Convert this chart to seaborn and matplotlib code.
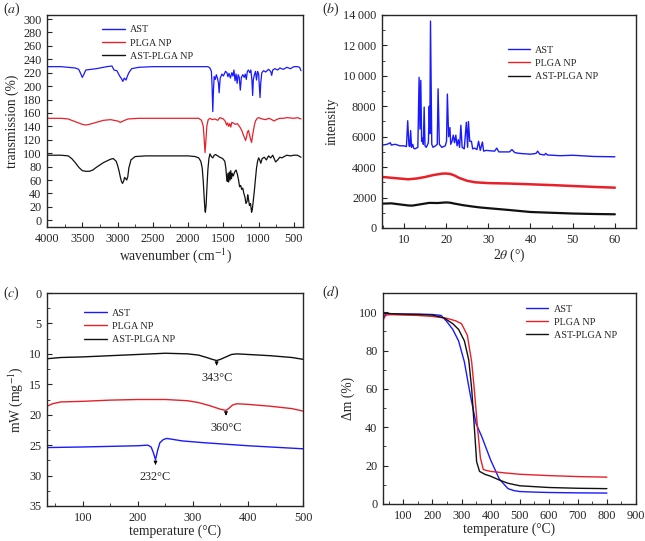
import numpy as np
import matplotlib
matplotlib.use('Agg')
import matplotlib.pyplot as plt
from matplotlib.ticker import MultipleLocator
import seaborn as sns

# ---- (a) FTIR ----
ast_wn = [4000, 3800, 3600, 3550, 3520, 3500, 3480, 3450, 3300, 3150,
          3080, 3050, 3010, 2970, 2950, 2925, 2905, 2880, 2860, 2840,
          2800, 2700, 2500, 2200, 1900, 1720, 1690, 1670, 1660, 1650,
          1640, 1630, 1615, 1600, 1585, 1570, 1560, 1545, 1520, 1500,
          1470, 1450, 1435, 1420, 1400, 1380, 1365, 1350, 1335, 1320,
          1305, 1290, 1275, 1260, 1245, 1225, 1205, 1190, 1175, 1160,
          1145, 1125, 1110, 1095, 1085, 1075, 1060, 1045, 1030, 1015,
          1000, 990, 980, 970, 955, 930, 900, 860, 830, 815,
          800, 770, 730, 700, 650, 600, 550, 500, 450, 420,
          400]
ast_tr = [229, 229, 227, 225, 218, 213, 217, 224, 226, 229,
          230, 224, 223, 215, 212, 207, 212, 209, 215, 220,
          226, 228, 229, 229, 229, 229, 227, 222, 200, 162,
          195, 214, 210, 217, 212, 205, 190, 212, 218, 215,
          222, 220, 214, 219, 212, 220, 215, 224, 208, 218,
          204, 217, 213, 194, 213, 217, 213, 218, 210, 222,
          224, 220, 224, 208, 186, 210, 217, 222, 209, 222,
          218, 200, 183, 205, 220, 223, 221, 225, 222, 216,
          224, 226, 224, 227, 225, 228, 226, 229, 229, 228,
          223]

plga_wn = [4000, 3800, 3700, 3600, 3500, 3450, 3400, 3300, 3200, 3100,
           3000, 2960, 2940, 2900, 2850, 2700, 2400, 2000, 1850, 1810,
           1785, 1770, 1760, 1750, 1735, 1715, 1690, 1660, 1620, 1580,
           1550, 1500, 1470, 1455, 1440, 1425, 1410, 1395, 1380, 1360,
           1330, 1300, 1280, 1260, 1240, 1220, 1200, 1185, 1170, 1160,
           1145, 1130, 1115, 1100, 1090, 1075, 1060, 1045, 1020, 1000,
           950, 900, 860, 830, 780, 750, 700, 650, 600, 500,
           450, 400]
plga_tr = [152, 152, 151, 147, 143, 142, 143, 146, 149, 150,
           148, 146, 147, 149, 151, 152, 152, 152, 152, 149,
           140, 118, 101, 115, 140, 150, 152, 150, 151, 149,
           153, 151, 147, 142, 145, 140, 144, 139, 146, 145,
           143, 144, 141, 138, 134, 128, 123, 119, 125, 131,
           134, 128, 121, 116, 124, 133, 142, 148, 152, 153,
           151, 150, 152, 151, 148, 150, 152, 152, 153, 152,
           153, 151]

mix_wn = [4000, 3800, 3700, 3650, 3600, 3550, 3500, 3450, 3400, 3350,
          3300, 3200, 3100, 3060, 3020, 3000, 2980, 2960, 2945, 2930,
          2915, 2900, 2885, 2870, 2855, 2840, 2810, 2750, 2600, 2300,
          2000, 1900, 1850, 1820, 1800, 1785, 1770, 1760, 1755, 1745,
          1735, 1720, 1705, 1690, 1670, 1650, 1630, 1610, 1580, 1550,
          1510, 1480, 1465, 1455, 1445, 1435, 1425, 1415, 1405, 1395,
          1385, 1375, 1360, 1340, 1320, 1300, 1285, 1270, 1255, 1240,
          1225, 1210, 1195, 1180, 1165, 1155, 1145, 1130, 1115, 1100,
          1090, 1075, 1060, 1045, 1030, 1015, 1000, 985, 970, 950,
          920, 890, 860, 830, 800, 780, 760, 730, 700, 670,
          640, 600, 550, 500, 450, 400]
mix_tr = [97, 97, 96, 92, 86, 79, 74, 73, 73, 75,
          79, 86, 91, 92, 88, 82, 74, 64, 58, 55,
          58, 64, 62, 60, 65, 78, 90, 95, 96, 96,
          96, 95, 93, 88, 78, 58, 30, 14, 12, 22,
          45, 75, 92, 99, 95, 93, 97, 98, 96, 94,
          92, 88, 78, 65, 58, 70, 57, 72, 60, 74,
          62, 70, 66, 72, 75, 68, 60, 50, 52, 46,
          48, 40, 35, 25, 28, 38, 32, 22, 25, 12,
          16, 30, 45, 62, 78, 88, 93, 90, 85, 92,
          94, 90, 96, 93, 97, 92, 87, 90, 94, 93,
          95, 97, 96, 97, 97, 94]

# ---- (b) XRD ----
ast_2t = [5, 6, 6.8, 7, 7.5, 8, 9, 10, 10.6, 10.9,
          11.2, 11.4, 11.6, 11.8, 12.1, 12.3, 12.6, 13.3, 13.6, 13.8,
          14.0, 14.2, 14.4, 14.6, 14.8, 15.0, 15.3, 15.8, 16.0, 16.15,
          16.3, 16.6, 16.9, 17.5, 17.9, 18.1, 18.4, 19.0, 19.8, 20.1,
          20.3, 20.6, 20.9, 21.1, 21.4, 21.7, 22.0, 22.3, 22.6, 22.9,
          23.2, 23.5, 23.8, 24.3, 24.8, 25.1, 25.3, 25.6, 26.0, 26.3,
          26.8, 27.3, 27.7, 28.1, 28.6, 28.9, 29.5, 31.5, 32.0, 32.5,
          35.0, 35.6, 36.3, 37.5, 40, 41.3, 41.7, 42.2, 43.3, 43.6,
          44, 47, 50, 55, 60]
ast_int = [5450, 5500, 5600, 5450, 5480, 5500, 5400, 5400, 5350, 7050,
           5400, 5350, 6400, 5300, 5500, 5250, 5200, 5300, 9900, 6500,
           9700, 5700, 5900, 5500, 7950, 5400, 5300, 5600, 8000, 6200,
           13600, 5500, 5300, 5400, 5500, 9150, 5500, 5300, 5400, 5700,
           8800, 6000, 6600, 5500, 5700, 6100, 5600, 6100, 5400, 5800,
           5300, 6750, 5300, 5200, 6950, 5300, 7000, 5700, 5700, 5200,
           5250, 5150, 5700, 5100, 5650, 5050, 5100, 5050, 5250, 5000,
           5000, 5150, 4950, 4900, 4850, 4900, 5050, 4850, 4800, 4900,
           4800, 4750, 4780, 4700, 4680]
plga_2t = [5, 7, 9, 11, 13, 15, 17, 19, 20, 21, 22, 23, 25, 27, 30, 35, 40, 45, 50, 55, 60]
plga_int = [3350, 3300, 3250, 3200, 3250, 3350, 3480, 3570, 3580, 3550, 3450,
            3300, 3100, 3000, 2950, 2920, 2870, 2820, 2760, 2700, 2650]
mix_2t = [5, 7, 9, 11, 12, 14, 16, 18, 20, 21, 22, 24, 26, 28, 30, 35, 40, 45, 50, 55, 60]
mix_int = [1600, 1620, 1550, 1480, 1470, 1560, 1650, 1640, 1680, 1660, 1600,
           1500, 1420, 1350, 1300, 1180, 1050, 1000, 950, 920, 900]

# ---- (c) DSC ----
ast_T = [35, 100, 150, 200, 218, 224, 228, 232, 236, 240, 246, 252, 260, 280, 320, 400, 460, 500]
ast_mw = [25.4, 25.3, 25.2, 25.1, 25.0, 25.3, 26.2, 27.4, 25.8, 24.6, 24.1, 23.9, 24.0,
          24.3, 24.6, 25.1, 25.4, 25.6]
plga_T = [35, 45, 60, 100, 150, 200, 250, 290, 310, 330, 350, 360, 366, 372, 380, 400, 440, 480, 500]
plga_mw = [18.6, 18.2, 17.9, 17.8, 17.6, 17.5, 17.5, 17.7, 18.0, 18.5, 19.1, 19.3, 18.9,
           18.4, 18.2, 18.3, 18.6, 19.0, 19.4]
mix_T = [35, 60, 100, 150, 200, 250, 290, 310, 325, 335, 343, 350, 360, 370, 380, 400, 440, 480, 500]
mix_mw = [10.8, 10.6, 10.5, 10.3, 10.1, 9.9, 10.0, 10.2, 10.6, 10.9, 11.1, 10.9, 10.5,
          10.1, 10.0, 10.1, 10.3, 10.6, 10.9]
peak_T = [343, 360, 232]
peak_y = [11.1, 19.3, 27.4]

# ---- (d) TGA ----
ast_tT = [30, 40, 60, 100, 150, 200, 230, 250, 270, 290, 310, 330, 350, 370, 400, 430, 460,
          480, 500, 550, 600, 700, 800]
ast_m = [97, 99, 99.2, 99, 99, 98.8, 98.3, 95, 91, 85, 74, 57, 42, 35, 23, 13, 8, 7, 6.5,
         6.2, 6, 5.8, 5.7]
plga_tT = [30, 40, 60, 100, 150, 200, 250, 280, 300, 320, 335, 345, 355, 365, 375, 385, 400,
           450, 500, 600, 700, 800]
plga_m = [96, 98.5, 98.7, 98.5, 98.3, 97.8, 96.8, 95.5, 94, 88, 74, 58, 40, 24, 18, 17.5,
          17, 16.2, 15.5, 14.8, 14.3, 14]
mix_tT = [30, 40, 60, 100, 150, 200, 240, 270, 290, 310, 325, 335, 345, 352, 362, 380, 400,
          430, 460, 500, 600, 700, 800]
mix_m = [99, 99.5, 99.2, 99, 98.8, 98.5, 97, 94, 91, 85, 75, 60, 38, 22, 17, 15.5, 14.5,
         12.5, 10.8, 9.5, 8.6, 8.2, 8]

labels = ['AST', 'PLGA NP', 'AST-PLGA NP']
colors = ['#1a1aff', '#e8202a', '#111111']

sns.set_style('ticks')
plt.rcParams['font.family'] = ['Liberation Serif', 'DejaVu Serif']
plt.rcParams['mathtext.fontset'] = 'stix'
plt.rcParams['xtick.direction'] = 'in'
plt.rcParams['ytick.direction'] = 'in'
plt.rcParams['axes.linewidth'] = 1.0

fig = plt.figure(figsize=(6.45, 5.41), dpi=100)
ax_a = fig.add_axes([0.0729, 0.5804, 0.397, 0.3919])
ax_b = fig.add_axes([0.5922, 0.5786, 0.3938, 0.3937])
ax_c = fig.add_axes([0.0729, 0.0647, 0.397, 0.3937])
ax_d = fig.add_axes([0.5938, 0.0684, 0.3922, 0.390])

tick_fs = 8.8
label_fs = 9.8


def draw(ax, series, lw=1.0):
    for (x, y), lab, col in zip(series, labels, colors):
        sns.lineplot(x=x, y=y, ax=ax, color=col, label=lab, linewidth=lw,
                     sort=False, estimator=None)


def style(ax, xlab, ylab, legend_xy):
    ax.set_xlabel(xlab, fontsize=label_fs, labelpad=1)
    ax.set_ylabel(ylab, fontsize=label_fs, labelpad=3)
    ax.tick_params(which='major', length=3.5, width=0.8, labelsize=tick_fs, pad=4)
    ax.tick_params(which='minor', length=2, width=0.6)
    leg = ax.legend(loc='upper left', bbox_to_anchor=legend_xy, frameon=False,
                    fontsize=7.3, handlelength=2.2, labelspacing=0.4,
                    borderaxespad=0, handletextpad=0.5)
    for h in leg.get_lines():
        h.set_linewidth(1.0)


# (a)
draw(ax_a, [(ast_wn, ast_tr), (plga_wn, plga_tr), (mix_wn, mix_tr)], lw=0.9)
ax_a.set_xlim(4000, 370)
ax_a.set_ylim(-10, 306)
ax_a.xaxis.set_major_locator(MultipleLocator(500))
ax_a.xaxis.set_minor_locator(MultipleLocator(250))
ax_a.yaxis.set_major_locator(MultipleLocator(20))
style(ax_a, 'wavenumber (cm$^{-1}$)', 'transmission (%)', (0.2, 0.97))

# (b)
draw(ax_b, [(ast_2t, ast_int), (plga_2t, plga_int), (mix_2t, mix_int)], lw=1.0)
ax_b.lines[1].set_linewidth(1.8)
ax_b.lines[2].set_linewidth(1.6)
ax_b.set_xlim(4.8, 65)
ax_b.set_ylim(0, 14000)
ax_b.xaxis.set_major_locator(MultipleLocator(10))
ax_b.xaxis.set_minor_locator(MultipleLocator(5))
ax_b.set_yticks(range(0, 14001, 2000))
ax_b.set_yticklabels(['0', '2000', '4000', '6000', '8000', '10\u2009000', '12\u2009000', '14\u2009000'])
ax_b.yaxis.set_minor_locator(MultipleLocator(1000))
style(ax_b, '2$\\it{\\theta}$ (°)', 'intensity', (0.48, 0.875))

# (c)
draw(ax_c, [(ast_T, ast_mw), (plga_T, plga_mw), (mix_T, mix_mw)])
ax_c.set_xlim(35, 500)
ax_c.set_ylim(35, 0)
ax_c.xaxis.set_major_locator(MultipleLocator(100))
ax_c.xaxis.set_minor_locator(MultipleLocator(50))
ax_c.yaxis.set_major_locator(MultipleLocator(5))
ax_c.yaxis.set_minor_locator(MultipleLocator(2.5))
style(ax_c, 'temperature (°C)', 'mW (mg$^{-1}$)', (0.13, 0.945))
for t, y in zip(peak_T, peak_y):
    ax_c.annotate('', xy=(t, y + 1.3), xytext=(t, y + 0.1),
                  arrowprops=dict(arrowstyle='-|>', color='black', lw=0.7,
                                  mutation_scale=5))
    ax_c.text(t, y + 2.9, f'{t}°C', ha='center', va='center', fontsize=8.8)

# (d)
draw(ax_d, [(ast_tT, ast_m), (plga_tT, plga_m), (mix_tT, mix_m)])
ax_d.set_xlim(30, 900)
ax_d.set_ylim(0, 110)
ax_d.xaxis.set_major_locator(MultipleLocator(100))
ax_d.xaxis.set_minor_locator(MultipleLocator(50))
ax_d.yaxis.set_major_locator(MultipleLocator(20))
ax_d.yaxis.set_minor_locator(MultipleLocator(10))
style(ax_d, 'temperature (°C)', 'Δm (%)', (0.55, 0.965))

for x, y, l in [(0.004, 0.983, 'a'), (0.5, 0.983, 'b'), (0.004, 0.457, 'c'), (0.5, 0.46, 'd')]:
    fig.text(x, y, f'(${{\\it {l}}}$)', fontsize=10, ha='left', va='center')

fig.savefig('out.png', dpi=100)
